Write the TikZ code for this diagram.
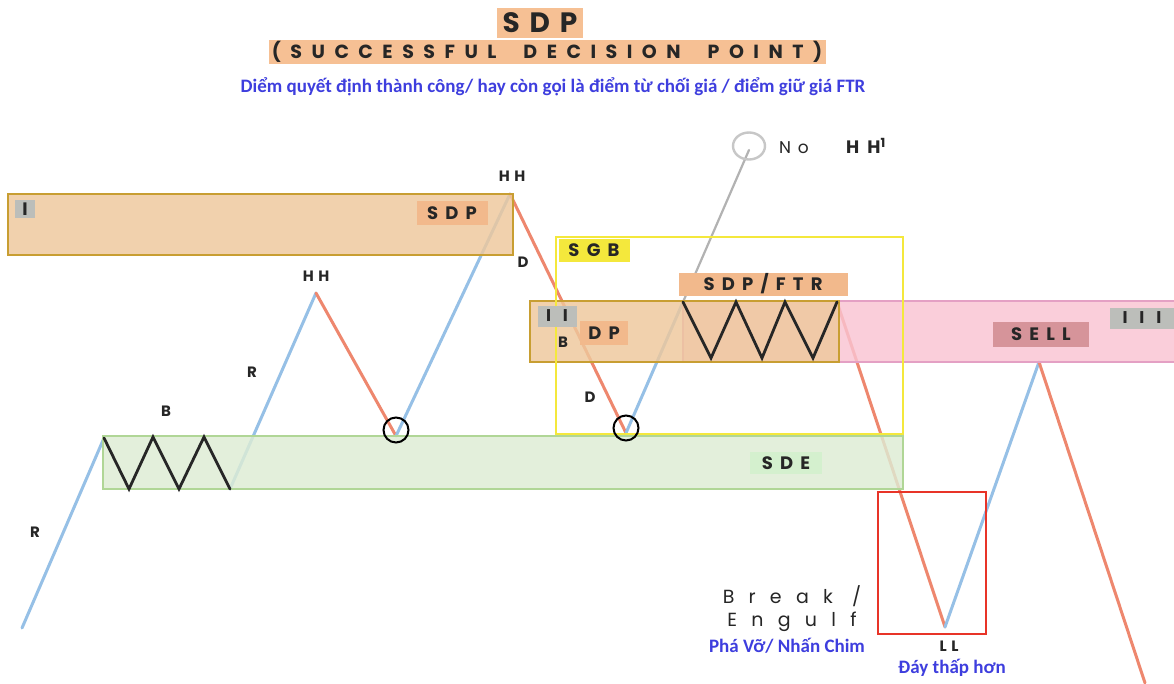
\documentclass[tikz,border=0pt]{standalone}
\usepackage{fontspec}
\setmainfont{Poppins}
\newfontfamily\gf{Poppins}
\newfontfamily\cf{Carlito}
\usetikzlibrary{shapes.geometric}
\definecolor{cblue}{RGB}{150,192,230}
\definecolor{cred}{RGB}{238,135,110}
\definecolor{cgray}{RGB}{178,178,178}
\definecolor{peach}{RGB}{238,200,156}
\definecolor{gold}{RGB}{200,158,50}
\definecolor{tagor}{RGB}{242,185,140}
\definecolor{titleor}{RGB}{246,192,148}
\definecolor{zgreen}{RGB}{221,236,212}
\definecolor{zgreenb}{RGB}{176,214,150}
\definecolor{tagg}{RGB}{212,240,206}
\definecolor{zpink}{RGB}{249,196,210}
\definecolor{zpinkb}{RGB}{228,160,196}
\definecolor{tagsell}{RGB}{214,148,154}
\definecolor{taggray}{RGB}{188,190,186}
\definecolor{ylw}{RGB}{244,232,60}
\definecolor{redbox}{RGB}{232,52,40}
\definecolor{vblue}{RGB}{62,62,222}
\tikzset{
  pline/.style={line width=3pt, line cap=round, line join=round},
  upl/.style={pline, draw=cblue},
  dnl/.style={pline, draw=cred},
  grl/.style={pline, draw=cgray, line width=2.2pt},
  zig/.style={line width=2.8pt, draw=black!85, line join=miter, line cap=round},
  zone/.style={fill opacity=0.82, draw opacity=1},
  ring/.style={circle, draw=black, line width=2pt, minimum size=25pt, inner sep=0pt},
  tag/.style={inner sep=0pt, text=black!85, font={\gf\bfseries\fontsize{18}{20}\selectfont\addfontfeature{LetterSpace=40}}},
  small/.style={inner sep=0pt, text=black!85, font={\gf\bfseries\fontsize{15}{17}\selectfont\addfontfeature{LetterSpace=30}}},
  viet/.style={inner sep=0pt, text=vblue, font={\cf\bfseries\fontsize{19}{21}\selectfont}},
  wide/.style={inner sep=0pt, text=black!85, font={\gf\fontsize{19}{21}\selectfont\addfontfeature{LetterSpace=75}}},
}
\begin{document}
\begin{tikzpicture}[x=1pt,y=-1pt]
\useasboundingbox (0,0) rectangle (1174,683);
\fill[white] (0,0) rectangle (1174,683);

% title
\node[fill=titleor, minimum width=86pt, minimum height=30pt, inner sep=0pt,
      font={\gf\bfseries\fontsize{28}{30}\selectfont\addfontfeature{LetterSpace=35}}, text=black!85] (t1) at (540,23) {SDP};
\node[fill=titleor, minimum width=557pt, minimum height=24pt, inner sep=0pt,
      font={\gf\bfseries\fontsize{19}{22}\selectfont\addfontfeature{LetterSpace=50}}, text=black!85] (t2) at (547,52) {(SUCCESSFUL\hspace{27pt}DECISION\hspace{27pt}POINT)};
\node[viet] (t3) at (553,87) {Diểm quyết định thành công/ hay còn gọi là điểm từ chối giá / điểm giữ giá FTR};

% path points
\coordinate (p0) at (22,628);
\coordinate (p1) at (104,438);
\coordinate (z1) at (129,489);
\coordinate (z2) at (153,437);
\coordinate (z3) at (179,489);
\coordinate (z4) at (204,437);
\coordinate (p2) at (230,489);
\coordinate (p3) at (316,293);
\coordinate (p4) at (396,436);
\coordinate (p5) at (510,194);
\coordinate (p6) at (626,433);
\coordinate (p7) at (683,302);
\coordinate (y1) at (711,358);
\coordinate (y2) at (736,302);
\coordinate (y3) at (762,358);
\coordinate (y4) at (785,302);
\coordinate (y5) at (813,358);
\coordinate (p9) at (837,302);
\coordinate (p10) at (945,627);
\coordinate (p11) at (1039,362);
\coordinate (p12) at (1145,683);
\coordinate (p8) at (749,150);

% price legs
\draw[upl] (p0) -- (p1);
\draw[upl] (p2) -- (p3);
\draw[dnl] (p3) -- (p4);
\draw[upl] (p4) -- (p5);
\draw[dnl] (p5) -- (p6);
\draw[upl] (p6) -- (p7);
\draw[grl] (p7) -- (p8);
\draw[dnl] (p9) -- (p10);
\draw[upl] (p10) -- (p11);
\draw[dnl] (p11) -- (p12);

% zones
\draw[zone, fill=peach, draw=gold, line width=2.5pt] (8,194) rectangle (513,255);
\draw[zone, fill=zgreen, draw=zgreenb, line width=1.5pt] (103,436) rectangle (903,489);
\draw[zone, fill=zpink, draw=zpinkb, line width=1.2pt] (683,301) rectangle (1180,362);
\draw[zone, fill=peach, draw=gold, line width=2.5pt] (530,301) rectangle (839,362);
\draw[draw=ylw, line width=2.6pt] (556,237) rectangle (903,434);
\draw[draw=redbox, line width=2.6pt] (878,492) rectangle (986,634);

% zigzags
\draw[zig] (p1) -- (z1) -- (z2) -- (z3) -- (z4) -- (p2);
\draw[zig] (p7) -- (y1) -- (y2) -- (y3) -- (y4) -- (y5) -- (p9);

% rings
\node[ring] (c1) at (396,430) {};
\node[ring] (c2) at (626,428) {};
\node[ring, draw=black!22, line width=2.4pt, minimum width=32pt, minimum height=27pt, ellipse] (c3) at (749,146) {};

% zone tags
\node[tag, fill=taggray, minimum width=20pt, minimum height=18pt] (g1) at (25,209) {I};
\node[tag, fill=tagor, minimum width=71pt, minimum height=24pt] (s1) at (452,213) {SDP};
\node[tag, fill=ylw, minimum width=71pt, minimum height=23pt] (sgb) at (594,250) {SGB};
\node[tag, fill=tagor, minimum width=169pt, minimum height=23pt] (sftr) at (763,284) {SDP/FTR};
\node[tag, fill=taggray, minimum width=39pt, minimum height=21pt, font={\gf\bfseries\fontsize{17}{20}\selectfont\addfontfeature{LetterSpace=70}}] (g2) at (557,316) {II};
\node[tag, fill=tagor, minimum width=48pt, minimum height=24pt] (dp) at (604,333) {DP};
\node[tag, fill=tagsell, minimum width=96pt, minimum height=25pt] (sell) at (1041,334) {SELL};
\node[tag, fill=taggray, minimum width=64pt, minimum height=21pt, font={\gf\bfseries\fontsize{17}{20}\selectfont\addfontfeature{LetterSpace=70}}] (g3) at (1142,318) {III};
\node[tag, fill=tagg, minimum width=72pt, minimum height=22pt] (sde) at (786,463) {SDE};

% small letters
\node[small] (lr1) at (35,532) {R};
\node[small] (lb1) at (166,411) {B};
\node[small] (lr2) at (252,372) {R};
\node[small] (lhh1) at (316,276) {HH};
\node[small] (lhh2) at (512,176) {HH};
\node[small] (ld1) at (523,262) {D};
\node[small] (lb2) at (563,342) {B};
\node[small] (ld2) at (590,397) {D};
\node[small] (lll) at (949,646) {LL};

% no HH1
\node[inner sep=0pt, text=black!85, font={\gf\fontsize{17}{19}\selectfont\addfontfeature{LetterSpace=40}}] (no) at (794,148) {No};
\node[inner sep=0pt, text=black!85, font={\gf\bfseries\fontsize{18}{20}\selectfont\addfontfeature{LetterSpace=45}}] (hh1) at (866,146) {HH\textsuperscript{1}};

% break / engulf
\node[wide] (brk) at (792,596) {Break /};
\node[wide] (eng) at (792,622) {Engulf};
\node[viet] (pv) at (787,646) {Phá Vỡ/ Nhấn Chim};
\node[viet] (dth) at (952,668) {Đáy thấp hơn};
\end{tikzpicture}
\end{document}
